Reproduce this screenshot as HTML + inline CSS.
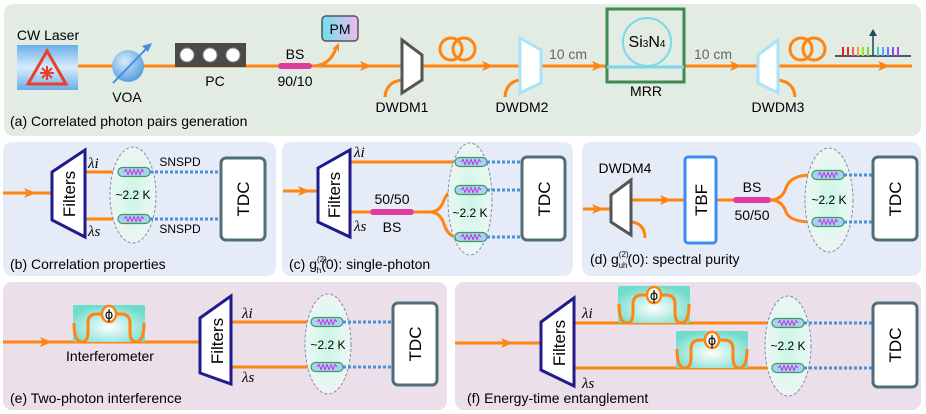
<!DOCTYPE html>
<html><head><meta charset="utf-8"><style>
html,body{margin:0;padding:0;background:#fff;}
svg{display:block;font-family:"Liberation Sans",sans-serif;}
</style></head><body>
<svg width="926" height="414" viewBox="0 0 926 414" xmlns="http://www.w3.org/2000/svg">
<defs>
<radialGradient id="cold" cx="50%" cy="50%" r="50%"><stop offset="0" stop-color="#c8f5e4"/><stop offset="0.6" stop-color="#dff8ee"/><stop offset="1" stop-color="#eef4f4"/></radialGradient>
<radialGradient id="intf" cx="50%" cy="60%" r="60%"><stop offset="0" stop-color="#ffffff"/><stop offset="1" stop-color="#6fdccb"/></radialGradient>
<linearGradient id="laser" x1="0" y1="0" x2="0" y2="1"><stop offset="0" stop-color="#6aaee8"/><stop offset="0.5" stop-color="#d8ecfb"/><stop offset="1" stop-color="#6aaee8"/></linearGradient>
<linearGradient id="pm" x1="0" y1="0" x2="1" y2="0"><stop offset="0" stop-color="#6fe0f0"/><stop offset="1" stop-color="#f0b8f0"/></linearGradient>
<radialGradient id="voa" cx="40%" cy="35%" r="65%"><stop offset="0" stop-color="#d8ecfb"/><stop offset="1" stop-color="#5a9fe0"/></radialGradient>
<g id="det"><rect x="0" y="-4.5" width="32" height="9" rx="4.5" fill="#a8d2f0" stroke="#3f9a5c" stroke-width="1.2"/><polyline points="6,0 8,-2.5 10,2.5 12,-2.5 14,2.5 16,-2.5 18,2.5 20,-2.5 22,2.5 24,-2.5 26,0" fill="none" stroke="#c030e0" stroke-width="1"/></g>
<g id="intfs"><rect x="0" y="0" width="72" height="37" rx="2" fill="url(#intf)"/><path d="M1,18 Q1,37 9,37 Q15,37 15,26 L15,18 Q15,9 24,9 L48,9 Q57,9 57,18 L57,26 Q57,37 63,37 Q71,37 71,18" fill="none" stroke="#ff8412" stroke-width="3"/><ellipse cx="36" cy="9" rx="7" ry="8" fill="#fff" stroke="#ff8412" stroke-width="2.5"/><text x="36" y="14" font-size="13" text-anchor="middle" font-family="DejaVu Sans">ϕ</text></g>
</defs>
<!-- panels -->
<rect x="4" y="4" width="917" height="132" rx="9" fill="#e2ece3"/>
<rect x="3" y="142" width="273" height="134" rx="9" fill="#e6ecf7"/>
<rect x="282" y="142" width="291" height="134" rx="9" fill="#e6ecf7"/>
<rect x="582" y="142" width="339" height="134" rx="9" fill="#e6ecf7"/>
<rect x="3" y="282" width="444" height="128" rx="9" fill="#ebdfe9"/>
<rect x="455" y="282" width="466" height="128" rx="9" fill="#ebdfe9"/>

<g stroke="#ff8412" stroke-width="3" fill="none">
<!-- (a) main line -->
<line x1="78" y1="66" x2="607" y2="66"/>
<line x1="684" y1="66" x2="912" y2="66"/>
<path d="M312,66 Q330,66 336,48"/>
<path d="M385,97 Q386,82 402,80"/>
<path d="M505,97 Q506,82 520,80"/>
<path d="M778,80 Q794,82 795,97"/>
<circle cx="451" cy="49" r="11"/><circle cx="464" cy="49" r="11"/>
<circle cx="801" cy="49" r="11"/><circle cx="814" cy="49" r="11"/>
<!-- (b) -->
<line x1="3" y1="193" x2="52" y2="193"/>
<line x1="85" y1="172" x2="120" y2="172"/><line x1="85" y1="219" x2="120" y2="219"/>
<!-- (c) -->
<line x1="283" y1="191" x2="318" y2="191"/>
<line x1="350" y1="162" x2="458" y2="162"/>
<path d="M350,212 L430,212 Q440,212 444,200 Q448,190 458,190"/>
<path d="M430,212 Q440,212 444,224 Q448,237 458,237"/>
<!-- (d) -->
<line x1="583" y1="209" x2="611" y2="209"/>
<line x1="631" y1="200" x2="686" y2="200"/>
<path d="M632,222 Q645,224 645,238"/>
<line x1="717" y1="200" x2="770" y2="200"/>
<path d="M770,200 Q782,200 786,188 Q790,175 812,175"/>
<path d="M770,200 Q782,200 786,212 Q790,222 812,222"/>
<!-- (e) -->
<line x1="3" y1="342" x2="200" y2="342"/>
<line x1="232" y1="322" x2="312" y2="322"/><line x1="232" y1="367" x2="312" y2="367"/>
<!-- (f) -->
<line x1="455" y1="343" x2="541" y2="343"/>
<line x1="575" y1="323" x2="773" y2="323"/><line x1="575" y1="368" x2="773" y2="368"/>
</g>
<!-- arrowheads -->
<g fill="#ff8412">
<path d="M372,66 l-12,-5 l3,5 l-3,5z"/>
<path d="M494,66 l-12,-5 l3,5 l-3,5z"/>
<path d="M604,66 l-12,-5 l3,5 l-3,5z"/>
<path d="M742,66 l-12,-5 l3,5 l-3,5z"/>
<path d="M890,66 l-12,-5 l3,5 l-3,5z"/>
<path d="M339,43 l-7,6 l5,-1 l2,5z"/>
<path d="M36,193 l-12,-5 l3,5 l-3,5z"/>
<path d="M310,191 l-12,-5 l3,5 l-3,5z"/>
<path d="M604,209 l-12,-5 l3,5 l-3,5z"/>
<path d="M672,200 l-12,-5 l3,5 l-3,5z"/>
<path d="M52,342 l-12,-5 l3,5 l-3,5z"/>
<path d="M513,343 l-12,-5 l3,5 l-3,5z"/>
</g>

<!-- (a) components -->
<text x="48" y="40" font-size="14" text-anchor="middle">CW Laser</text>
<rect x="17" y="45" width="61" height="45" fill="url(#laser)"/>
<path d="M47,51 L66,84 L28,84 Z" fill="none" stroke="#e8402a" stroke-width="3"/>
<g stroke="#e8402a" stroke-width="2"><line x1="47" y1="66" x2="47" y2="80"/><line x1="40" y1="73" x2="54" y2="73"/><line x1="42" y1="68" x2="52" y2="78"/><line x1="52" y1="68" x2="42" y2="78"/></g>
<circle cx="128" cy="66" r="16" fill="url(#voa)"/>
<line x1="113" y1="83" x2="148" y2="47" stroke="#4a8ee0" stroke-width="2"/>
<path d="M152,43 l-10,3 l6,6z" fill="#4a8ee0"/>
<text x="127" y="102" font-size="14" text-anchor="middle">VOA</text>
<rect x="175" y="43" width="71" height="24" fill="#4a4a4a"/>
<g fill="#fff" stroke="#888" stroke-width="1"><circle cx="187" cy="55" r="7"/><circle cx="210" cy="55" r="7"/><circle cx="233" cy="55" r="7"/></g>
<text x="215" y="86" font-size="14" text-anchor="middle">PC</text>
<rect x="278" y="63" width="34" height="6" rx="3" fill="#e03ca0"/>
<text x="295" y="59" font-size="14" text-anchor="middle">BS</text>
<text x="295" y="86" font-size="14" text-anchor="middle">90/10</text>
<rect x="322" y="16" width="36" height="25" rx="4" fill="url(#pm)" stroke="#555" stroke-width="1.5"/>
<text x="340" y="34" font-size="14" text-anchor="middle">PM</text>
<path d="M402,40 L422,55 L422,80 L402,93Z" fill="#fff" stroke="#555" stroke-width="3"/>
<text x="402" y="112" font-size="14" text-anchor="middle">DWDM1</text>
<path d="M520,38 L541,50 L541,83 L520,93Z" fill="#fff" stroke="#a8e4f8" stroke-width="3"/>
<text x="522" y="112" font-size="14" text-anchor="middle">DWDM2</text>
<text x="568" y="59" font-size="14" text-anchor="middle" fill="#666">10 cm</text>
<rect x="607" y="9" width="77" height="73" fill="none" stroke="#3e8a50" stroke-width="3"/>
<circle cx="647" cy="42" r="24" fill="none" stroke="#7ad8e8" stroke-width="2"/>
<line x1="607" y1="67" x2="684" y2="67" stroke="#7ad8e8" stroke-width="3"/>
<text x="647" y="47" font-size="16" text-anchor="middle">Si<tspan font-size="10">3</tspan>N<tspan font-size="10">4</tspan></text>
<text x="646" y="96" font-size="14" text-anchor="middle">MRR</text>
<text x="713" y="59" font-size="14" text-anchor="middle" fill="#666">10 cm</text>
<path d="M758,55 L778,40 L778,93 L758,83Z" fill="#fff" stroke="#a8e4f8" stroke-width="3"/>
<text x="778" y="112" font-size="14" text-anchor="middle">DWDM3</text>
<line x1="835" y1="56" x2="911" y2="56" stroke="#224" stroke-width="1.5"/>
<g stroke-width="2"><line x1="843" y1="47" x2="843" y2="56" stroke="#e02020"/><line x1="848" y1="47" x2="848" y2="56" stroke="#e03030"/><line x1="853" y1="47" x2="853" y2="56" stroke="#f06060"/><line x1="858" y1="47" x2="858" y2="56" stroke="#f0a040"/><line x1="863" y1="47" x2="863" y2="56" stroke="#a0e020"/><line x1="868" y1="47" x2="868" y2="56" stroke="#60e030"/><line x1="878" y1="47" x2="878" y2="56" stroke="#40d0c0"/><line x1="883" y1="47" x2="883" y2="56" stroke="#40b0f0"/><line x1="888" y1="47" x2="888" y2="56" stroke="#6080f0"/><line x1="893" y1="47" x2="893" y2="56" stroke="#8050f0"/><line x1="898" y1="47" x2="898" y2="56" stroke="#a040f0"/></g>
<line x1="873" y1="56" x2="873" y2="34" stroke="#1a4a5a" stroke-width="1.5"/><path d="M873,29 l-4,7 l8,0z" fill="#1a4a5a"/>
<text x="10" y="126" font-size="14">(a) Correlated photon pairs generation</text>

<!-- common text style -->
<g font-size="14">
<!-- (b) -->
<path d="M52,172 L85,150 L85,237 L52,220Z" fill="#fff" stroke="#201a8c" stroke-width="3"/>
<text transform="translate(75,194) rotate(-90)" font-size="17" text-anchor="middle">Filters</text>
<text x="88" y="168" font-size="15" font-family="Liberation Serif" font-style="italic">λi</text>
<text x="88" y="236" font-size="15" font-family="Liberation Serif" font-style="italic">λs</text>
<ellipse cx="133" cy="195" rx="23" ry="48" fill="url(#cold)" stroke="#7890a8" stroke-dasharray="3,2"/>
<use href="#det" x="118" y="172"/><use href="#det" x="118" y="219"/>
<text x="133" y="199" font-size="12" text-anchor="middle">~2.2 K</text>
<g stroke="#4a90d8" stroke-width="3" stroke-dasharray="3,2"><line x1="150" y1="172" x2="220" y2="172"/><line x1="150" y1="219" x2="220" y2="219"/></g>
<text x="180" y="166" font-size="12" text-anchor="middle">SNSPD</text>
<text x="180" y="233" font-size="12" text-anchor="middle">SNSPD</text>
<rect x="221" y="158" width="44" height="82" rx="5" fill="#fff" stroke="#4f6f78" stroke-width="3"/>
<text transform="translate(249,199) rotate(-90)" font-size="17" text-anchor="middle">TDC</text>
<text x="10" y="269" font-size="14">(b) Correlation properties</text>

<!-- (c) -->
<path d="M318,168 L350,150 L350,237 L318,222Z" fill="#fff" stroke="#201a8c" stroke-width="3"/>
<text transform="translate(340,195) rotate(-90)" font-size="17" text-anchor="middle">Filters</text>
<text x="354" y="157" font-size="15" font-family="Liberation Serif" font-style="italic">λi</text>
<text x="354" y="231" font-size="15" font-family="Liberation Serif" font-style="italic">λs</text>
<rect x="370" y="209" width="44" height="6" rx="3" fill="#e03ca0"/>
<text x="392" y="204" font-size="14" text-anchor="middle">50/50</text>
<text x="392" y="232" font-size="14" text-anchor="middle">BS</text>
<ellipse cx="470" cy="199" rx="22" ry="56" fill="url(#cold)" stroke="#7890a8" stroke-dasharray="3,2"/>
<use href="#det" x="455" y="162"/><use href="#det" x="455" y="190"/><use href="#det" x="455" y="237"/>
<text x="470" y="217" font-size="12" text-anchor="middle">~2.2 K</text>
<g stroke="#4a90d8" stroke-width="3" stroke-dasharray="3,2"><line x1="487" y1="162" x2="521" y2="162"/><line x1="487" y1="190" x2="521" y2="190"/><line x1="487" y1="237" x2="521" y2="237"/></g>
<rect x="522" y="157" width="43" height="83" rx="5" fill="#fff" stroke="#4f6f78" stroke-width="3"/>
<text transform="translate(550,199) rotate(-90)" font-size="17" text-anchor="middle">TDC</text>
<text x="289" y="269" font-size="14">(c) g<tspan font-size="8" dy="-7">(2)</tspan><tspan font-size="8" dx="-10" dy="11">h</tspan><tspan dy="-4">(0): single-photon</tspan></text>

<!-- (d) -->
<path d="M611,195 L631,180 L631,235 L611,222Z" fill="#fff" stroke="#555" stroke-width="3"/>
<text x="625" y="173" font-size="14" text-anchor="middle">DWDM4</text>
<rect x="685" y="157" width="31" height="86" rx="3" fill="#fff" stroke="#3a8cf0" stroke-width="3"/>
<text transform="translate(707,200) rotate(-90)" font-size="17" text-anchor="middle">TBF</text>
<rect x="733" y="197" width="38" height="6" rx="3" fill="#e03ca0"/>
<text x="752" y="192" font-size="14" text-anchor="middle">BS</text>
<text x="752" y="220" font-size="14" text-anchor="middle">50/50</text>
<ellipse cx="829" cy="200" rx="24" ry="52" fill="url(#cold)" stroke="#7890a8" stroke-dasharray="3,2"/>
<use href="#det" x="812" y="175"/><use href="#det" x="812" y="222"/>
<text x="829" y="204" font-size="12" text-anchor="middle">~2.2 K</text>
<g stroke="#4a90d8" stroke-width="3" stroke-dasharray="3,2"><line x1="844" y1="175" x2="872" y2="175"/><line x1="844" y1="222" x2="872" y2="222"/></g>
<rect x="873" y="157" width="44" height="83" rx="5" fill="#fff" stroke="#4f6f78" stroke-width="3"/>
<text transform="translate(901,199) rotate(-90)" font-size="17" text-anchor="middle">TDC</text>
<text x="590" y="264" font-size="14">(d) g<tspan font-size="8" dy="-7">(2)</tspan><tspan font-size="8" dx="-10" dy="11">uh</tspan><tspan dy="-4">(0): spectral purity</tspan></text>

<!-- (e) -->
<use href="#intfs" x="73" y="305"/>
<text x="110" y="361" font-size="14" text-anchor="middle">Interferometer</text>
<path d="M200,318 L231,296 L231,384 L200,373Z" fill="#fff" stroke="#201a8c" stroke-width="3"/>
<text transform="translate(223,341) rotate(-90)" font-size="17" text-anchor="middle">Filters</text>
<text x="242" y="318" font-size="15" font-family="Liberation Serif" font-style="italic">λi</text>
<text x="242" y="382" font-size="15" font-family="Liberation Serif" font-style="italic">λs</text>
<ellipse cx="328" cy="344" rx="23" ry="50" fill="url(#cold)" stroke="#7890a8" stroke-dasharray="3,2"/>
<use href="#det" x="311" y="322"/><use href="#det" x="311" y="367"/>
<text x="328" y="349" font-size="12" text-anchor="middle">~2.2 K</text>
<g stroke="#4a90d8" stroke-width="3" stroke-dasharray="3,2"><line x1="343" y1="322" x2="392" y2="322"/><line x1="343" y1="367" x2="392" y2="367"/></g>
<rect x="393" y="303" width="44" height="82" rx="5" fill="#fff" stroke="#4f6f78" stroke-width="3"/>
<text transform="translate(421,344) rotate(-90)" font-size="17" text-anchor="middle">TDC</text>
<text x="10" y="403" font-size="14">(e) Two-photon interference</text>

<!-- (f) -->
<use href="#intfs" x="618" y="286"/>
<use href="#intfs" x="676" y="331"/>
<path d="M541,322 L574,298 L574,386 L541,370Z" fill="#fff" stroke="#201a8c" stroke-width="3"/>
<text transform="translate(565,343) rotate(-90)" font-size="17" text-anchor="middle">Filters</text>
<text x="582" y="318" font-size="15" font-family="Liberation Serif" font-style="italic">λi</text>
<text x="582" y="388" font-size="15" font-family="Liberation Serif" font-style="italic">λs</text>
<ellipse cx="788" cy="346" rx="23" ry="50" fill="url(#cold)" stroke="#7890a8" stroke-dasharray="3,2"/>
<use href="#det" x="772" y="323"/><use href="#det" x="772" y="368"/>
<text x="788" y="350" font-size="12" text-anchor="middle">~2.2 K</text>
<g stroke="#4a90d8" stroke-width="3" stroke-dasharray="3,2"><line x1="804" y1="323" x2="872" y2="323"/><line x1="804" y1="368" x2="872" y2="368"/></g>
<rect x="873" y="303" width="44" height="84" rx="5" fill="#fff" stroke="#4f6f78" stroke-width="3"/>
<text transform="translate(901,345) rotate(-90)" font-size="17" text-anchor="middle">TDC</text>
<text x="467" y="403" font-size="14">(f) Energy-time entanglement</text>
</g>
</svg>
</body></html>
